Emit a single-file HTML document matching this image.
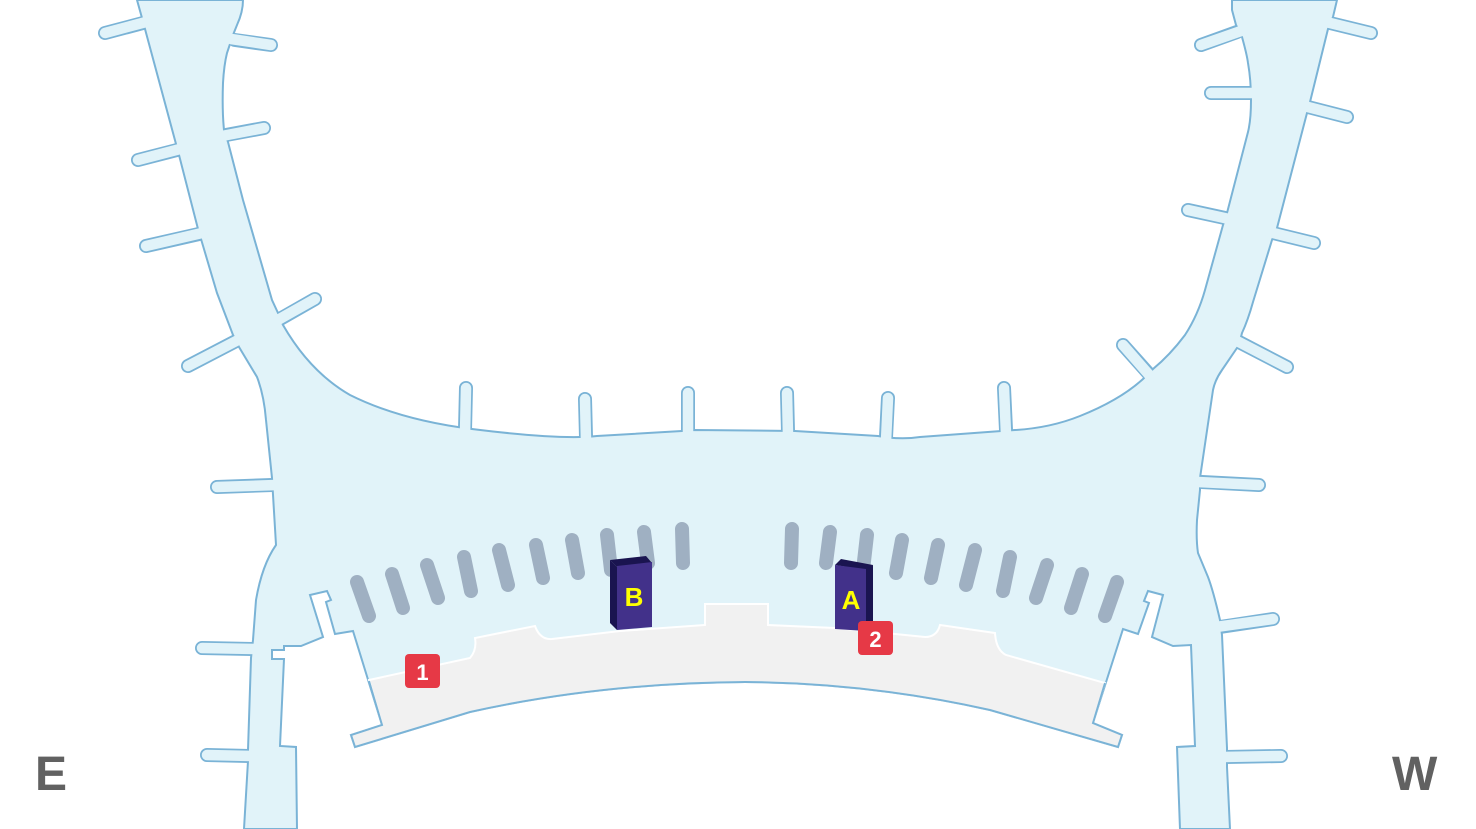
<!DOCTYPE html>
<html><head><meta charset="utf-8"><style>
html,body{margin:0;padding:0;background:#fff;}
svg{display:block;}
</style></head><body>
<svg width="1476" height="829" viewBox="0 0 1476 829" xmlns="http://www.w3.org/2000/svg">
<!-- jetway outlines -->
<g stroke="#7ab3d6" stroke-width="14" stroke-linecap="round" fill="none">
<line x1="143" y1="23" x2="105" y2="33"/>
<line x1="235" y1="40" x2="271" y2="45"/>
<line x1="226" y1="135" x2="264" y2="128"/>
<line x1="177" y1="150" x2="138" y2="160"/>
<line x1="199" y1="234" x2="146" y2="246"/>
<line x1="280" y1="319" x2="315" y2="299"/>
<line x1="236" y1="341" x2="188" y2="366"/>
<line x1="272" y1="485" x2="217" y2="487"/>
<line x1="252" y1="649" x2="202" y2="648"/>
<line x1="249" y1="756" x2="207" y2="755"/>
<line x1="465" y1="430" x2="466" y2="388"/>
<line x1="586" y1="437" x2="585" y2="399"/>
<line x1="688" y1="431" x2="688" y2="393"/>
<line x1="788" y1="431" x2="787" y2="393"/>
<line x1="886" y1="437" x2="888" y2="398"/>
<line x1="1006" y1="430" x2="1004" y2="388"/>
<line x1="1237" y1="32" x2="1201" y2="45"/>
<line x1="1330" y1="23" x2="1371" y2="33"/>
<line x1="1251" y1="93" x2="1211" y2="93"/>
<line x1="1308" y1="107" x2="1347" y2="117"/>
<line x1="1225" y1="218" x2="1188" y2="210"/>
<line x1="1273" y1="233" x2="1314" y2="243"/>
<line x1="1148" y1="373" x2="1123" y2="345"/>
<line x1="1239" y1="342" x2="1287" y2="367"/>
<line x1="1202" y1="482" x2="1259" y2="485"/>
<line x1="1220" y1="627" x2="1273" y2="619"/>
<line x1="1226" y1="757" x2="1281" y2="756"/>
</g>
<!-- main building -->
<path fill="#e1f3f9" stroke="#7ab3d6" stroke-width="2" stroke-linejoin="miter" d="
M137,0 L142,18 L145,29 L176,144 L179,155 L198,229 L201,239 L217,293 L233,335 L239,347 L257,377 Q264,395 266,420 L272,478 L276,545
Q262,565 256,600 L253,640 L251,658 L248,750 L248,761 L244,829
L297,829 L296,747 L280,746 L284,659 L272,659 L272,650 L284,650 L284,646 L301,646 L323,637 L310,595 L327,591 L331,600 L326,602 L335,634 L353,631
L382,725 L351,735 L355,747 L470,712 Q600,683 745,682 Q870,683 990,710 L1118,747 L1122,735 L1093,723 L1123,629
L1138,634 L1149,603 L1144,601 L1148,591 L1163,595 L1152,637 L1173,646 L1191,645 L1195,746 L1177,747 L1180,829 L1230,829
L1227,767 L1227,748 L1222,635 L1220,620 Q1213,590 1208,577 L1198,553 Q1196,540 1197,520 L1200,490 L1200,478 L1213,390 Q1215,380 1222,370 L1239,345 L1242,333 Q1248,320 1253,302 L1272,240 L1277,228 L1307,113 L1310,102 L1328,29 L1333,17 L1337,0
L1232,0 L1232,10 L1236,25 L1242,37 Q1247,55 1248,63 Q1251,80 1251,100 Q1251,120 1248,132 L1227,213 L1223,225 L1205,290 Q1198,315 1185,335 Q1170,355 1153,369 L1143,379
Q1120,400 1080,416 Q1050,428 1015,430 L920,437 Q900,440 878,436 L795,431 L695,430 L682,431 L597,436 Q560,440 472,429 Q400,420 350,395 Q310,372 283,325 L278,313 L272,300
L243,200 L228,142 L224,130 Q222,110 223,83 Q224,65 227,53 L233,35 L237,25 Q243,12 243,0 Z"/>
<!-- jetway inner fill -->
<g stroke="#e1f3f9" stroke-width="10.5" stroke-linecap="round" fill="none">
<line x1="146" y1="22" x2="105" y2="33"/>
<line x1="231" y1="39" x2="271" y2="45"/>
<line x1="222" y1="136" x2="264" y2="128"/>
<line x1="180" y1="149" x2="138" y2="160"/>
<line x1="202" y1="233" x2="146" y2="246"/>
<line x1="276" y1="321" x2="315" y2="299"/>
<line x1="240" y1="339" x2="188" y2="366"/>
<line x1="276" y1="485" x2="217" y2="487"/>
<line x1="256" y1="649" x2="202" y2="648"/>
<line x1="252" y1="756" x2="207" y2="755"/>
<line x1="465" y1="434" x2="466" y2="388"/>
<line x1="586" y1="441" x2="585" y2="399"/>
<line x1="688" y1="435" x2="688" y2="393"/>
<line x1="788" y1="435" x2="787" y2="393"/>
<line x1="886" y1="441" x2="888" y2="398"/>
<line x1="1006" y1="434" x2="1004" y2="388"/>
<line x1="1241" y1="31" x2="1201" y2="45"/>
<line x1="1326" y1="22" x2="1371" y2="33"/>
<line x1="1255" y1="93" x2="1211" y2="93"/>
<line x1="1304" y1="106" x2="1347" y2="117"/>
<line x1="1229" y1="219" x2="1188" y2="210"/>
<line x1="1269" y1="232" x2="1314" y2="243"/>
<line x1="1151" y1="377" x2="1123" y2="345"/>
<line x1="1235" y1="340" x2="1287" y2="367"/>
<line x1="1198" y1="482" x2="1259" y2="485"/>
<line x1="1216" y1="627" x2="1273" y2="619"/>
<line x1="1222" y1="757" x2="1281" y2="756"/>
</g>
<!-- grey terminal floor -->
<path fill="#f1f1f1" stroke="#ffffff" stroke-width="2" d="M369,680 L470,658 Q477,650 475,638 L535,626 Q540,640 552,639 L620,631 L705,625 L705,604 L768,604 L768,625 L835,628 L925,637 Q937,637 940,625 L995,633 Q996,650 1006,655 L1105,683 L1093,723 L1122,735 L1118,747 L990,710 Q870,683 745,682 Q600,683 470,712 L355,747 L351,735 L382,725 Z"/>
<path fill="none" stroke="#7ab3d6" stroke-width="2" d="M1105,683 L1093,723 L1122,735 L1118,747 L990,710 Q870,683 745,682 Q600,683 470,712 L355,747 L351,735 L382,725 L369,681"/>
<!-- gate bars -->
<g stroke="#9fb0c2" stroke-width="14" stroke-linecap="round">
<line x1="357" y1="582" x2="369" y2="616"/>
<line x1="392" y1="574" x2="403" y2="608"/>
<line x1="427" y1="565" x2="438" y2="598"/>
<line x1="464" y1="557" x2="471" y2="591"/>
<line x1="499" y1="550" x2="508" y2="585"/>
<line x1="536" y1="545" x2="543" y2="578"/>
<line x1="572" y1="540" x2="578" y2="573"/>
<line x1="607" y1="535" x2="611" y2="570"/>
<line x1="644" y1="532" x2="648" y2="563"/>
<line x1="682" y1="529" x2="683" y2="563"/>
<line x1="792" y1="529" x2="791" y2="563"/>
<line x1="830" y1="532" x2="826" y2="563"/>
<line x1="867" y1="535" x2="863" y2="570"/>
<line x1="902" y1="540" x2="896" y2="573"/>
<line x1="938" y1="545" x2="931" y2="578"/>
<line x1="975" y1="550" x2="966" y2="585"/>
<line x1="1010" y1="557" x2="1003" y2="591"/>
<line x1="1047" y1="565" x2="1036" y2="598"/>
<line x1="1082" y1="574" x2="1071" y2="608"/>
<line x1="1117" y1="582" x2="1105" y2="616"/>
</g>
<!-- B tower -->
<polygon points="610,560 646,556 652,563 617,567" fill="#1a1450"/>
<polygon points="610,560 617,567 617,630 610,623" fill="#1a1450"/>
<polygon points="617,566 652,562 652,627 617,630" fill="#42318a"/>
<text x="634" y="606" font-family="Liberation Sans, sans-serif" font-weight="bold" font-size="26" fill="#ffff00" text-anchor="middle">B</text>
<!-- A tower -->
<polygon points="835,565 841,559 873,565 866,570" fill="#1a1450"/>
<polygon points="866,569 873,565 873,630 866,631" fill="#1a1450"/>
<polygon points="835,565 866,569 866,631 835,629" fill="#42318a"/>
<text x="851" y="609" font-family="Liberation Sans, sans-serif" font-weight="bold" font-size="26" fill="#ffff00" text-anchor="middle">A</text>
<!-- badges -->
<rect x="405" y="654" width="35" height="34" rx="4" fill="#e63946"/>
<text x="422.5" y="680" font-family="Liberation Sans, sans-serif" font-weight="bold" font-size="22" fill="#fff" text-anchor="middle">1</text>
<rect x="858" y="621" width="35" height="34" rx="4" fill="#e63946"/>
<text x="875.5" y="647" font-family="Liberation Sans, sans-serif" font-weight="bold" font-size="22" fill="#fff" text-anchor="middle">2</text>
<!-- compass -->
<text x="35" y="790" font-family="Liberation Sans, sans-serif" font-weight="bold" font-size="48" fill="#616161">E</text>
<text x="1392" y="790" font-family="Liberation Sans, sans-serif" font-weight="bold" font-size="48" fill="#616161">W</text>
</svg>
</body></html>
